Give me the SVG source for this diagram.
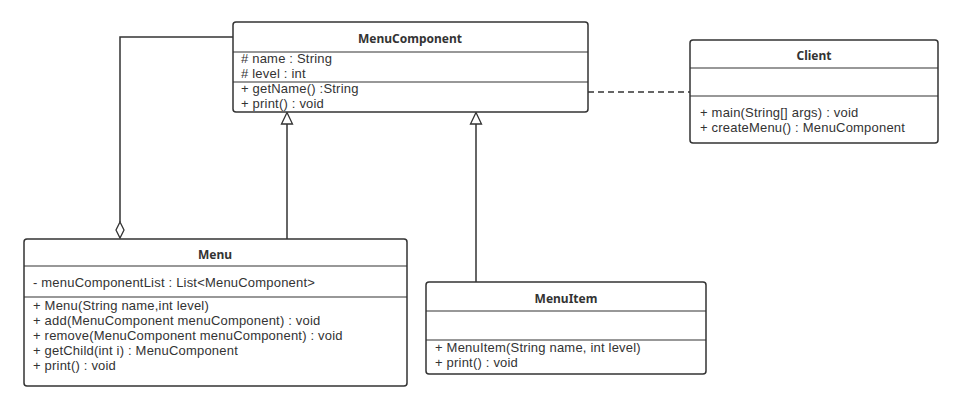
<svg xmlns="http://www.w3.org/2000/svg" width="975" height="417" viewBox="0 0 975 417">
<style>
.box{fill:#fff;stroke:#333;stroke-width:1.5}
.sep{stroke:#333;stroke-width:1.2}
.t{font-family:"Liberation Sans",Arial,sans-serif;font-size:13px;letter-spacing:0.2px;fill:#333}
.h{font-family:"Noto Sans","Open Sans",sans-serif;font-size:12px;font-weight:bold;fill:#333;text-anchor:middle}
.c{fill:none;stroke:#333;stroke-width:1.5}
.head{fill:#fff;stroke:#333;stroke-width:1.3}
</style>
<rect width="975" height="417" fill="#fff"/>
<g id="connectors">
<path class="c" d="M233,37 H120 V222"/>
<path class="head" d="M120,222 L124,230 L120,238 L116,230 Z"/>
<path class="c" d="M287,239 V124"/>
<path class="head" d="M287,112.5 L292.5,124 L281.5,124 Z"/>
<path class="c" d="M476,282 V124"/>
<path class="head" d="M476,112.5 L481.5,124 L470.5,124 Z"/>
<path class="c" d="M588,92 H690" stroke-dasharray="6,4"/>
</g>
<g id="MenuComponent">
<rect class="box" x="233" y="22" width="355" height="90" rx="3"/>
<line class="sep" x1="233" y1="52" x2="588" y2="52"/>
<line class="sep" x1="233" y1="82" x2="588" y2="82"/>
<text class="h" x="410" y="43">MenuComponent</text>
<text class="t" x="241" y="63"># name : String</text>
<text class="t" x="241" y="78"># level : int</text>
<text class="t" x="241" y="93">+ getName() :String</text>
<text class="t" x="241" y="108">+ print() : void</text>
</g>
<g id="Client">
<rect class="box" x="690" y="40" width="248" height="103" rx="3"/>
<line class="sep" x1="690" y1="68" x2="938" y2="68"/>
<line class="sep" x1="690" y1="96" x2="938" y2="96"/>
<text class="h" x="814" y="60">Client</text>
<text class="t" x="700" y="117">+ main(String[] args) : void</text>
<text class="t" x="700" y="132">+ createMenu() : MenuComponent</text>
</g>
<g id="Menu">
<rect class="box" x="24" y="239" width="383" height="147" rx="3"/>
<line class="sep" x1="24" y1="266" x2="407" y2="266"/>
<line class="sep" x1="24" y1="297" x2="407" y2="297"/>
<text class="h" x="215" y="259">Menu</text>
<text class="t" x="33" y="287">- menuComponentList : List&lt;MenuComponent&gt;</text>
<text class="t" x="33" y="310">+ Menu(String name,int level)</text>
<text class="t" x="33" y="325">+ add(MenuComponent menuComponent) : void</text>
<text class="t" x="33" y="340">+ remove(MenuComponent menuComponent) : void</text>
<text class="t" x="33" y="355">+ getChild(int i) : MenuComponent</text>
<text class="t" x="33" y="370">+ print() : void</text>
</g>
<g id="MenuItem">
<rect class="box" x="426" y="282" width="280" height="92" rx="3"/>
<line class="sep" x1="426" y1="311" x2="706" y2="311"/>
<line class="sep" x1="426" y1="340" x2="706" y2="340"/>
<text class="h" x="566" y="303">MenuItem</text>
<text class="t" x="435" y="352">+ MenuItem(String name, int level)</text>
<text class="t" x="435" y="367">+ print() : void</text>
</g>
</svg>
